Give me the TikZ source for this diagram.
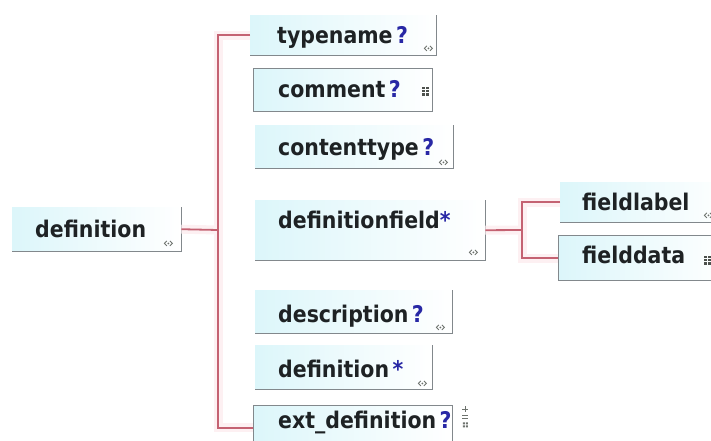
\documentclass[tikz,border=0pt]{standalone}
\usepackage{fontspec}
\setmainfont{DejaVu Sans}
\definecolor{conncol}{RGB}{196,98,114}
\definecolor{glowcol}{RGB}{253,240,242}
\definecolor{boxfill}{RGB}{220,246,250}
\definecolor{bordercol}{RGB}{130,136,140}
\definecolor{txtcol}{RGB}{30,34,36}
\definecolor{qcol}{RGB}{40,40,165}
\definecolor{iconcol}{RGB}{110,115,110}
\tikzset{
  obox/.style={rectangle, inner sep=0pt, left color=boxfill, right color=white, draw=none},
  cbox/.style={obox, draw=bordercol, line width=1.3pt},
  border/.style={draw=bordercol, line width=1.3pt},
  lbl/.style={anchor=base west, inner sep=0pt, text=txtcol, font=\fontsize{20.5}{24}\selectfont\bfseries},
  conn/.style={draw=conncol, line width=1.8pt},
  glow/.style={draw=glowcol, line width=9pt},
  linkicon/.pic={\draw[iconcol, line width=0.9pt] (-1.5,-2.5)--(-4,0)--(-1.5,2.5) (1.5,-2.5)--(4,0)--(1.5,2.5); \fill[iconcol] (0,0) circle (1);},
  gridicon/.pic={\foreach \i in {0,1} \foreach \j in {0,1,2} \fill[iconcol!70!black] (-3.5+\i*4,-4.5+\j*3.2) rectangle ++(3,2.3);},
  exticon/.pic={\draw[iconcol, line width=0.8pt] (-3,-10)--(3,-10) (0,-13)--(0,-7) (-3,-4)--(3,-4) (-3,-1)--(3,-1); \fill[iconcol] (-2.5,3) rectangle ++(2,2) (0.5,3) rectangle ++(2,2) (-2.5,6) rectangle ++(2,2) (0.5,6) rectangle ++(2,2);}
}
\newcommand{\q}{\textcolor{qcol}{?}}
\newcommand{\st}{\textcolor{qcol}{*}}
\newcommand{\tall}[1]{\scalebox{1}[1.12]{#1}}
\begin{document}
\begin{tikzpicture}[x=1pt,y=-1pt]
\useasboundingbox (0,0) rectangle (711,440);
% connector glow (behind)
\coordinate (trunk) at (218,230);
\coordinate (sub) at (522,230);
% boxes
\node[obox, anchor=north west, minimum width=169, minimum height=44] (defn) at (12,207) {};
\node[obox, anchor=north west, minimum width=186, minimum height=40] (typename) at (250,15) {};
\node[cbox, anchor=north west, minimum width=179, minimum height=43] (comment) at (253,68) {};
\node[obox, anchor=north west, minimum width=198, minimum height=43] (contenttype) at (255,125) {};
\node[obox, anchor=north west, minimum width=230, minimum height=60] (deffield) at (255,200) {};
\node[obox, anchor=north west, minimum width=170, minimum height=40] (fieldlabel) at (560,182) {};
\node[cbox, anchor=north west, minimum width=170, minimum height=45] (fielddata) at (558,235) {};
\node[obox, anchor=north west, minimum width=197, minimum height=43] (description) at (255,290) {};
\node[obox, anchor=north west, minimum width=177, minimum height=44] (defstar) at (255,345) {};
\node[cbox, anchor=north west, minimum width=199, minimum height=44] (extdef) at (253,405) {};
% open borders
\foreach \n in {defn,typename,contenttype,deffield,fieldlabel,description,defstar}
  \draw[border] (\n.north east) -- (\n.south east) -- (\n.south west);
% connectors
\draw[glow] (typename.west) -| (trunk) |- (extdef.west);
\draw[glow] (defn.east) -- (trunk);
\draw[glow] (deffield.east) -- (sub);
\draw[glow] (fieldlabel.west) -| (sub) |- (fielddata.west);
\draw[conn] (typename.west) -| (trunk) |- (extdef.west);
\draw[conn] (defn.east) -- (trunk);
\draw[conn] (deffield.east) -- (sub);
\draw[conn] (fieldlabel.west) -| (sub) |- (fielddata.west);
% labels
\node[lbl] (tdefn) at (35,237) {\tall{definition}};
\node[lbl] (ttypename) at (277,43) {\tall{typename\,\q}};
\node[lbl] (tcomment) at (278,97) {\tall{comment\,\q}};
\node[lbl] (tcontenttype) at (278,155) {\tall{contenttype\,\q}};
\node[lbl] (tdeffield) at (278,228) {\tall{definitionfield\st}};
\node[lbl] (tfieldlabel) at (582,210) {\tall{fieldlabel}};
\node[lbl] (tfielddata) at (582,263) {\tall{fielddata}};
\node[lbl] (tdescription) at (278,322) {\tall{description\,\q}};
\node[lbl] (tdefstar) at (278,377) {\tall{definition\,\st}};
\node[lbl] (textdef) at (278,428) {\tall{ext\_definition\,\q}};
% icons
\pic at ([shift={(-13,-8)}]defn.south east) {linkicon};
\pic at ([shift={(-8,-7)}]typename.south east) {linkicon};
\pic at ([shift={(-8,-21)}]comment.south east) {gridicon};
\pic at ([shift={(-10,-6)}]contenttype.south east) {linkicon};
\pic at ([shift={(-12,-8)}]deffield.south east) {linkicon};
\pic at ([shift={(-22,-7)}]fieldlabel.south east) {linkicon};
\pic at ([shift={(-22,-21)}]fielddata.south east) {gridicon};
\pic at ([shift={(-12,-6)}]description.south east) {linkicon};
\pic at ([shift={(-10,-6)}]defstar.south east) {linkicon};
\pic at ([shift={(12,-31)}]extdef.south east) {exticon};
\end{tikzpicture}
\end{document}
